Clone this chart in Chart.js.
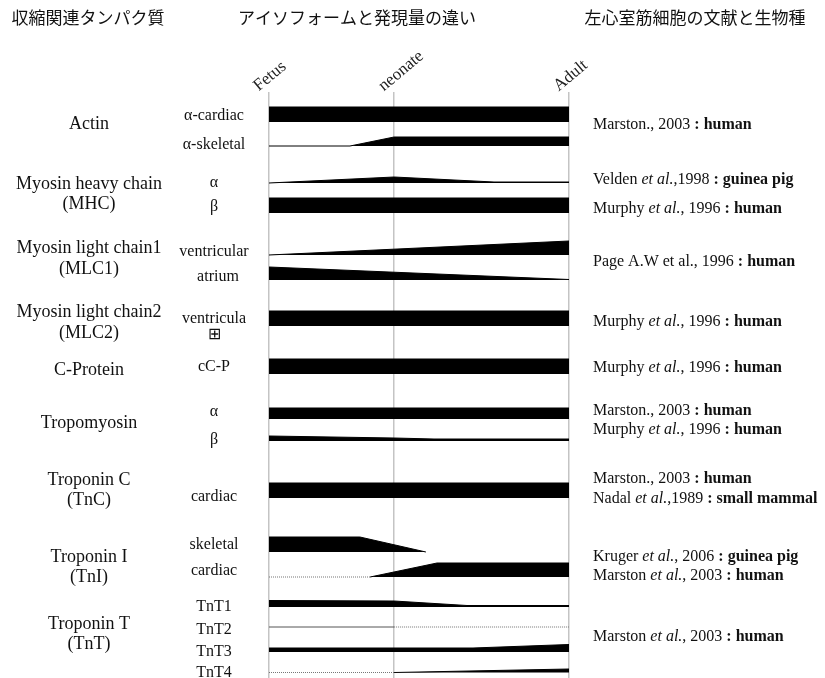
<!DOCTYPE html>
<html>
<head>
<meta charset="utf-8">
<script src="https://cdn.jsdelivr.net/npm/chart.js@4.4.1/dist/chart.umd.min.js"></script>
<style>
  html, body { margin: 0; padding: 0; background: #fff; }
  canvas { display: block; }
</style>
</head>
<body>
<canvas id="chart_isoform" width="825" height="678"></canvas>
<script>
// column headers
const headers = ["収縮関連タンパク質", "アイソフォームと発現量の違い", "左心室筋細胞の文献と生物種"];
const headerX = [88, 357, 695];

// developmental stages (x axis, 0 = fetus, 100 = adult)
const stageNames = ["Fetus", "neonate", "Adult"];
const stageX = [0, 41.7, 100];

// proteins (left column) and where their label sits
const proteinNames = [
  ["Actin"], ["Myosin heavy chain", "(MHC)"], ["Myosin light chain1", "(MLC1)"],
  ["Myosin light chain2", "(MLC2)"], ["C-Protein"], ["Tropomyosin"],
  ["Troponin C", "(TnC)"], ["Troponin I", "(TnI)"], ["Troponin T", "(TnT)"]
];
const proteinLane = [124.5, 194.5, 259, 323, 370, 423, 490.5, 567.5, 634.5];

// isoforms: label, label lane, baseline lane of the band
const isoformNames = ["α-cardiac", "α-skeletal", "α", "β", "ventricular", "atrium", ["ventricula", "⊞"],
  "cC-P", "α", "β", "cardiac", "skeletal", "cardiac", "TnT1", "TnT2", "TnT3", "TnT4"];
const isoformLabelLane = [115.5, 145, 183, 207, 252, 277, 319, 367, 411.5, 440, 497, 545, 571, 607, 630, 652, 673];
const laneBase = [122, 146, 183, 213, 255, 280, 326, 374, 419, 441, 498, 552, 577, 607, 627, 652, 672.5];

// expression level along development: [stage position, band thickness]
const levels = [
  [[0, 15], [100, 15]],
  [[0, 0], [27, 0], [41.7, 9], [100, 9]],
  [[0, 0], [41.7, 6], [75, 1], [100, 1]],
  [[0, 15], [100, 15]],
  [[0, 0], [100, 14]],
  [[0, 13], [100, 0.5]],
  [[0, 15], [100, 15]],
  [[0, 15], [100, 15]],
  [[0, 11], [100, 11]],
  [[0, 5], [41.7, 3], [55, 2], [100, 2]],
  [[0, 15], [100, 15]],
  [[0, 15], [30.3, 15], [52.3, 0]],
  [[33.7, 0], [56, 14], [100, 14]],
  [[0, 6.5], [41.7, 6], [66, 1.5], [100, 1.5]],
  [],
  [[0, 4], [68, 4], [100, 7.5]],
  [[41.7, 0], [100, 3.5]]
];

// trace / absent expression lines
const traceLane = [577, 627, 627, 672.5];
const traceFrom = [0, 0, 41.7, 0];
const traceTo = [33.7, 41.7, 100, 41.7];
const traceDotted = [true, false, true, true];

// references (right column): [text, style] parts, style "" / "i" / "b"
const refTexts = [
  [["Marston., 2003 ", ""], [": human", "b"]],
  [["Velden ", ""], ["et al.", "i"], [",1998 ", ""], [": guinea pig", "b"]],
  [["Murphy ", ""], ["et al.", "i"], [", 1996 ", ""], [": human", "b"]],
  [["Page A.W et al., 1996 ", ""], [": human", "b"]],
  [["Murphy ", ""], ["et al.", "i"], [", 1996 ", ""], [": human", "b"]],
  [["Murphy ", ""], ["et al.", "i"], [", 1996 ", ""], [": human", "b"]],
  [["Marston., 2003 ", ""], [": human", "b"]],
  [["Murphy ", ""], ["et al.", "i"], [", 1996 ", ""], [": human", "b"]],
  [["Marston., 2003 ", ""], [": human", "b"]],
  [["Nadal ", ""], ["et al.", "i"], [",1989 ", ""], [": small mammal", "b"]],
  [["Kruger ", ""], ["et al.", "i"], [", 2006 ", ""], [": guinea pig", "b"]],
  [["Marston ", ""], ["et al.", "i"], [", 2003 ", ""], [": human", "b"]],
  [["Marston ", ""], ["et al.", "i"], [", 2003 ", ""], [": human", "b"]]
];
const refLane = [124.5, 180, 208.5, 262, 322, 368, 410.5, 429.5, 479, 498.5, 557, 575.5, 637];

const SERIF = "'Liberation Serif', 'Times New Roman', serif";

let datasets = [];
isoformNames.forEach((name, i) => {
  datasets.push({
    label: Array.isArray(name) ? name.join(" ") : name,
    data: levels[i].map((p) => ({ x: p[0], y: laneBase[i] - p[1] })),
    fill: { value: laneBase[i] },
    backgroundColor: "#000",
    borderColor: "#000",
    borderWidth: 1,
    pointRadius: 0,
    tension: 0,
  });
});
traceLane.forEach((lane, i) => {
  datasets.push({
    label: "trace" + i,
    data: [{ x: traceFrom[i], y: lane }, { x: traceTo[i], y: lane }],
    fill: false,
    borderColor: traceDotted[i] ? "#777" : "#555",
    borderWidth: 1,
    borderDash: traceDotted[i] ? [1, 1] : [],
    pointRadius: 0,
  });
});

const sideText = {
  id: "sideText",
  afterDraw(chart) {
    const ctx = chart.ctx;
    const yScale = chart.scales.y;
    ctx.save();
    ctx.fillStyle = "#111";
    ctx.textBaseline = "middle";

    // headers
    ctx.font = "17px 'Noto Sans CJK JP'";
    ctx.textAlign = "center";
    headers.forEach((h, i) => ctx.fillText(h, headerX[i], 18));

    // protein names
    ctx.font = "18px " + SERIF;
    proteinNames.forEach((lines, i) => {
      const cy = yScale.getPixelForValue(proteinLane[i]);
      const lh = 20.5;
      lines.forEach((t, j) => {
        ctx.fillText(t, 89, cy + (j - (lines.length - 1) / 2) * lh);
      });
    });

    // isoform names
    ctx.font = "16px " + SERIF;
    isoformNames.forEach((name, i) => {
      const cy = yScale.getPixelForValue(isoformLabelLane[i]);
      const lines = Array.isArray(name) ? name : [name];
      lines.forEach((t, j) => ctx.fillText(t, name === "atrium" ? 218 : 214, cy + j * 16));
    });

    // references
    ctx.textAlign = "left";
    refTexts.forEach((parts, i) => {
      const cy = yScale.getPixelForValue(refLane[i]);
      let x = 593;
      parts.forEach((p) => {
        ctx.font = (p[1] === "b" ? "bold " : p[1] === "i" ? "italic " : "") + "16px " + SERIF;
        ctx.fillText(p[0], x, cy);
        x += ctx.measureText(p[0]).width;
      });
    });
    ctx.restore();
  },
};

const ctxIso = document.getElementById("chart_isoform").getContext("2d");
const isoChart = new Chart(ctxIso, {
  type: "line",
  data: { datasets: datasets },
  options: {
    responsive: false,
    animation: false,
    layout: { padding: { left: 269, right: 256, top: 0, bottom: 0 } },
    plugins: {
      legend: { display: false },
      tooltip: { enabled: false },
    },
    scales: {
      x: {
        type: "linear",
        position: "top",
        min: 0,
        max: 100,
        z: 1,
        afterBuildTicks: (scale) => {
          scale.ticks = stageX.map((v) => ({ value: v }));
        },
        afterFit: (scale) => {
          scale.height = 92;
        },
        border: { display: false },
        grid: { color: "#c4c4c4", lineWidth: 1.5, drawTicks: false },
        ticks: {
          autoSkip: false,
          minRotation: 40,
          maxRotation: 40,
          padding: -4,
          labelOffset: 0,
          color: "#222",
          font: { family: SERIF, size: 17 },
          callback: (value) => stageNames[stageX.indexOf(value)],
        },
      },
      y: {
        type: "linear",
        display: false,
        reverse: true,
        min: 92,
        max: 678,
      },
    },
  },
  plugins: [sideText],
});
</script>
</body>
</html>
